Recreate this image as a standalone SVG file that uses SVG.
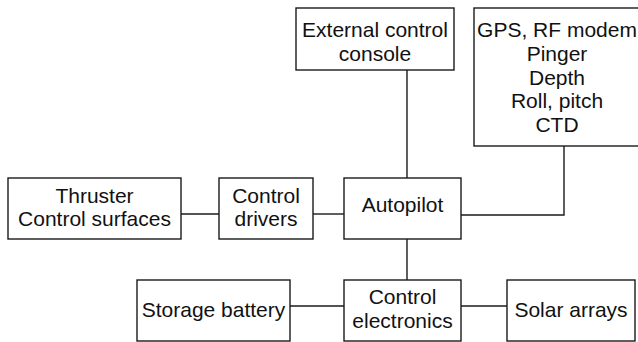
<svg xmlns="http://www.w3.org/2000/svg" width="638" height="342" viewBox="0 0 638 342">
<style>
.box{fill:#fff;stroke:#1a1a1a;stroke-width:1.4}
.c{fill:none;stroke:#1a1a1a;stroke-width:1.4}
text{font-family:"Liberation Sans",Arial,sans-serif;font-size:21px;fill:#111;text-anchor:middle}
</style>
<rect width="638" height="342" fill="#fff"/>
<g id="connectors">
<line class="c" x1="181" y1="214" x2="219" y2="214"/>
<line class="c" x1="313" y1="214" x2="344" y2="214"/>
<line class="c" x1="407" y1="70" x2="407" y2="178"/>
<polyline class="c" points="564,146 564,215 461,215"/>
<line class="c" x1="407" y1="239" x2="407" y2="280"/>
<line class="c" x1="290" y1="306" x2="344" y2="306"/>
<line class="c" x1="461" y1="306" x2="507" y2="306"/>
</g>
<g id="external">
<rect class="box" x="296" y="8" width="158" height="62"/>
<text x="375" y="37">External control</text>
<text x="375" y="61">console</text>
</g>
<g id="sensors">
<rect class="box" x="474" y="8" width="190" height="138"/>
<text x="557" y="37">GPS, RF modem</text>
<text x="557" y="61">Pinger</text>
<text x="557" y="84.5">Depth</text>
<text x="557" y="108">Roll, pitch</text>
<text x="557" y="132">CTD</text>
</g>
<g id="thruster">
<rect class="box" x="8" y="178" width="173" height="61"/>
<text x="94.5" y="203">Thruster</text>
<text x="94.5" y="226">Control surfaces</text>
</g>
<g id="drivers">
<rect class="box" x="219" y="178" width="94" height="61"/>
<text x="266" y="203">Control</text>
<text x="266" y="226">drivers</text>
</g>
<g id="autopilot">
<rect class="box" x="344" y="178" width="117" height="61"/>
<text x="402.5" y="212">Autopilot</text>
</g>
<g id="battery">
<rect class="box" x="137" y="280" width="153" height="61"/>
<text x="213.5" y="317">Storage battery</text>
</g>
<g id="electronics">
<rect class="box" x="344" y="280" width="117" height="61"/>
<text x="402.5" y="304">Control</text>
<text x="402.5" y="328">electronics</text>
</g>
<g id="solar">
<rect class="box" x="507" y="280" width="128" height="61"/>
<text x="571" y="317">Solar arrays</text>
</g>
</svg>
